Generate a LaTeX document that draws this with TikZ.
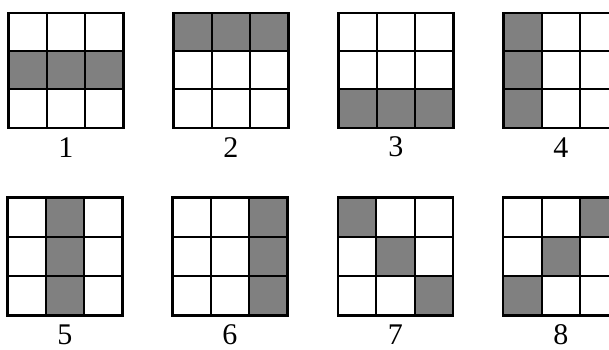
\documentclass[tikz,border=0pt]{standalone}
\usepackage{fontspec}
\setmainfont{Liberation Serif}
\usepackage{tikz}
\usetikzlibrary{positioning}
\definecolor{ton}{HTML}{808080}
\tikzset{
  carre/.style={draw,line width=2.2pt,minimum width=38.3pt,inner sep=0pt,outer sep=0pt},
  plein/.style={carre,fill=ton},
  num/.style={font=\fontsize{30}{33}\selectfont,inner sep=0pt},
}
% #1 numero, #2 gauche, #3 haut, #4 hauteur d'une case, #5 cases grises, #6 ordonnee du numero
\newcommand{\pavage}[6]{%
  \foreach \cx/\cy in {#5}
    \node[plein,minimum height=#4pt] (g#1-s\cx\cy) at ({#2+(\cx+0.5)*38.3},{#3+(\cy+0.5)*#4}) {};
  \foreach \cx in {0,1,2}
    \foreach \cy in {0,1,2}
      \node[carre,minimum height=#4pt] (g#1-\cx\cy) at ({#2+(\cx+0.5)*38.3},{#3+(\cy+0.5)*#4}) {};
  \node[num] (n#1) at ({#2+57.45},#6) {#1};
}

\begin{document}
\begin{tikzpicture}[x=1pt,y=-1pt]
  \useasboundingbox (0,0) rectangle (609,349);
  \clip (0,0) rectangle (609,349);
  \pavage{1}{8.5}{12.7}{38.3}{0/1,1/1,2/1}{147.2}
  \pavage{2}{173.5}{12.7}{38.3}{0/0,1/0,2/0}{147.2}
  \pavage{3}{338.5}{12.7}{38.3}{0/2,1/2,2/2}{147.2}
  \pavage{4}{503.5}{12.7}{38.3}{0/0,0/1,0/2}{147.2}
  \pavage{5}{7.5}{197.5}{39.3}{1/0,1/1,1/2}{335}
  \pavage{6}{172.5}{197.5}{39.3}{2/0,2/1,2/2}{335}
  \pavage{7}{338}{197.5}{39.3}{0/0,1/1,2/2}{335}
  \pavage{8}{503.3}{197.5}{39.3}{2/0,1/1,0/2}{335}
\end{tikzpicture}
\end{document}
